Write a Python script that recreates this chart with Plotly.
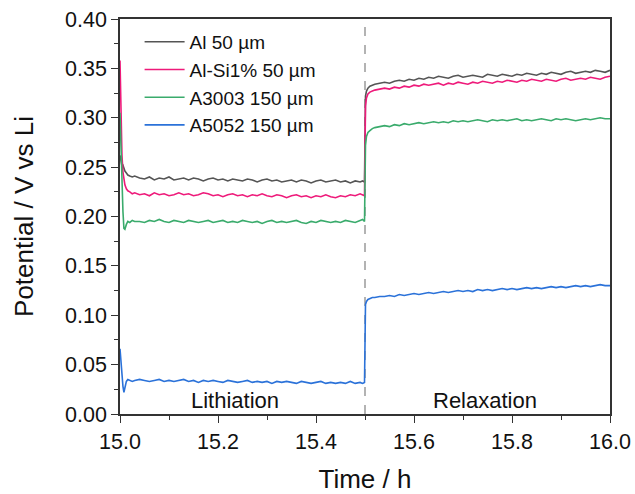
import plotly.graph_objects as go

# ---- data ----
time_lith = [15.000, 15.002, 15.004, 15.006, 15.008, 15.010, 15.013, 15.016, 15.020, 15.025, 15.030,
             15.04, 15.05, 15.06, 15.07, 15.08, 15.09, 15.10, 15.11, 15.12, 15.13,
             15.14, 15.15, 15.16, 15.17, 15.18, 15.19, 15.20, 15.21, 15.22, 15.23,
             15.24, 15.25, 15.26, 15.27, 15.28, 15.29, 15.30, 15.31, 15.32, 15.33,
             15.34, 15.35, 15.36, 15.37, 15.38, 15.39, 15.40, 15.41, 15.42, 15.43,
             15.44, 15.45, 15.46, 15.47, 15.48, 15.49, 15.495, 15.499]
time_relax = [15.501, 15.503, 15.506, 15.510, 15.515, 15.520,
              15.53, 15.54, 15.55, 15.56, 15.57, 15.58, 15.59, 15.60, 15.61, 15.62,
              15.63, 15.64, 15.65, 15.66, 15.67, 15.68, 15.69, 15.70, 15.71, 15.72,
              15.73, 15.74, 15.75, 15.76, 15.77, 15.78, 15.79, 15.80, 15.81, 15.82,
              15.83, 15.84, 15.85, 15.86, 15.87, 15.88, 15.89, 15.90, 15.91, 15.92,
              15.93, 15.94, 15.95, 15.96, 15.97, 15.98, 15.99, 16.00]

al_lith = [0.262, 0.254, 0.251, 0.252, 0.249, 0.246, 0.244, 0.242, 0.241, 0.240, 0.241,
           0.239, 0.238, 0.240, 0.237, 0.239, 0.238, 0.240, 0.237, 0.238, 0.239,
           0.237, 0.239, 0.238, 0.236, 0.238, 0.239, 0.237, 0.238, 0.236, 0.238,
           0.237, 0.236, 0.238, 0.237, 0.235, 0.237, 0.238, 0.236, 0.237, 0.235,
           0.236, 0.237, 0.235, 0.237, 0.236, 0.234, 0.236, 0.237, 0.235, 0.236,
           0.237, 0.235, 0.236, 0.234, 0.236, 0.235, 0.236, 0.235]
al_relax = [0.322, 0.327, 0.330, 0.332, 0.333, 0.334,
            0.335, 0.336, 0.335, 0.337, 0.338, 0.337, 0.339, 0.338, 0.340, 0.339,
            0.341, 0.340, 0.342, 0.341, 0.340, 0.342, 0.343, 0.341, 0.342, 0.343,
            0.342, 0.341, 0.344, 0.343, 0.342, 0.344, 0.343, 0.342, 0.344, 0.343,
            0.345, 0.344, 0.343, 0.345, 0.344, 0.346, 0.345, 0.344, 0.346, 0.347,
            0.345, 0.346, 0.347, 0.346, 0.348, 0.347, 0.346, 0.348]

alsi_lith = [0.358, 0.300, 0.262, 0.245, 0.236, 0.232, 0.228, 0.226, 0.225, 0.223, 0.224,
             0.222, 0.223, 0.221, 0.224, 0.222, 0.223, 0.221, 0.222, 0.224, 0.222,
             0.223, 0.221, 0.222, 0.224, 0.223, 0.221, 0.222, 0.220, 0.222, 0.223,
             0.221, 0.222, 0.220, 0.222, 0.221, 0.223, 0.221, 0.220, 0.222, 0.221,
             0.219, 0.221, 0.222, 0.220, 0.221, 0.219, 0.221, 0.220, 0.222, 0.220,
             0.219, 0.221, 0.220, 0.222, 0.221, 0.223, 0.222, 0.221]
alsi_relax = [0.312, 0.320, 0.324, 0.326, 0.327, 0.328,
              0.329, 0.330, 0.329, 0.331, 0.330, 0.332, 0.331, 0.333, 0.332, 0.334,
              0.333, 0.334, 0.335, 0.333, 0.335, 0.334, 0.336, 0.335, 0.334, 0.336,
              0.335, 0.337, 0.336, 0.335, 0.337, 0.336, 0.338, 0.337, 0.336, 0.338,
              0.337, 0.339, 0.338, 0.337, 0.339, 0.338, 0.337, 0.339, 0.340, 0.338,
              0.339, 0.340, 0.339, 0.341, 0.340, 0.339, 0.341, 0.342]

a3003_lith = [0.305, 0.262, 0.228, 0.205, 0.188, 0.187, 0.192, 0.195, 0.194, 0.196, 0.195,
              0.195, 0.194, 0.196, 0.195, 0.197, 0.195, 0.194, 0.196, 0.195, 0.194,
              0.196, 0.195, 0.194, 0.195, 0.196, 0.194, 0.195, 0.196, 0.194, 0.195,
              0.194, 0.196, 0.195, 0.194, 0.195, 0.193, 0.195, 0.196, 0.194, 0.195,
              0.194, 0.195, 0.196, 0.194, 0.193, 0.195, 0.194, 0.196, 0.195, 0.194,
              0.195, 0.194, 0.196, 0.195, 0.194, 0.196, 0.197, 0.195]
a3003_relax = [0.272, 0.281, 0.285, 0.287, 0.289, 0.290,
               0.291, 0.292, 0.291, 0.293, 0.292, 0.294, 0.293, 0.294, 0.295, 0.294,
               0.295, 0.296, 0.295, 0.296, 0.295, 0.297, 0.296, 0.297, 0.296, 0.297,
               0.298, 0.297, 0.296, 0.298, 0.297, 0.298, 0.297, 0.298, 0.299, 0.297,
               0.298, 0.297, 0.298, 0.299, 0.298, 0.297, 0.299, 0.298, 0.299, 0.298,
               0.297, 0.298, 0.299, 0.298, 0.299, 0.300, 0.299, 0.299]

a5052_lith = [0.066, 0.052, 0.040, 0.028, 0.022, 0.026, 0.033, 0.035, 0.034, 0.033, 0.034,
              0.035, 0.034, 0.033, 0.034, 0.035, 0.033, 0.034, 0.033, 0.034, 0.035,
              0.033, 0.034, 0.032, 0.034, 0.033, 0.034, 0.033, 0.032, 0.034, 0.033,
              0.032, 0.033, 0.034, 0.032, 0.033, 0.032, 0.033, 0.031, 0.033, 0.032,
              0.033, 0.032, 0.031, 0.033, 0.032, 0.031, 0.032, 0.033, 0.031, 0.032,
              0.031, 0.032, 0.031, 0.033, 0.031, 0.032, 0.031, 0.032]
a5052_relax = [0.111, 0.114, 0.116, 0.117, 0.118, 0.118,
               0.119, 0.119, 0.120, 0.119, 0.121, 0.120, 0.121, 0.122, 0.121, 0.122,
               0.123, 0.122, 0.123, 0.124, 0.123, 0.124, 0.125, 0.124, 0.125, 0.124,
               0.126, 0.125, 0.126, 0.125, 0.126, 0.127, 0.126, 0.127, 0.126, 0.127,
               0.128, 0.127, 0.128, 0.127, 0.128, 0.129, 0.128, 0.129, 0.128, 0.129,
               0.130, 0.129, 0.130, 0.129, 0.130, 0.131, 0.130, 0.130]

series_names = ["Al 50 µm", "Al-Si1% 50 µm", "A3003 150 µm", "A5052 150 µm"]
series_colors = ["#555555", "#ee1a7a", "#3aab6c", "#2b72d9"]
series_lith = [al_lith, alsi_lith, a3003_lith, a5052_lith]
series_relax = [al_relax, alsi_relax, a3003_relax, a5052_relax]

x_ticks = [15.0, 15.2, 15.4, 15.6, 15.8, 16.0]
y_ticks = [0.00, 0.05, 0.10, 0.15, 0.20, 0.25, 0.30, 0.35, 0.40]
phase_labels = ["Lithiation", "Relaxation"]
phase_x = [15.235, 15.745]
switch_time = 15.5

FONT = "Arial, Liberation Sans, sans-serif"

fig = go.Figure()
for name, color, yl, yr in zip(series_names, series_colors, series_lith, series_relax):
    fig.add_trace(go.Scatter(
        x=time_lith + time_relax, y=yl + yr, mode="lines", name=name,
        line=dict(color=color, width=1.6)))

fig.add_shape(type="line", x0=switch_time, x1=switch_time, y0=0, y1=1,
              xref="x", yref="y domain",
              line=dict(color="#9a9a9a", width=1.5, dash="dash"), layer="below")

for lbl, px in zip(phase_labels, phase_x):
    fig.add_annotation(x=px, y=0.014, xref="x", yref="y", text=lbl, showarrow=False,
                       font=dict(size=22, color="#111111", family=FONT))

axis_common = dict(showline=True, linecolor="#333333", linewidth=1.5, mirror=True,
                   ticks="outside", ticklen=7, tickwidth=1.3, tickcolor="#333333",
                   showgrid=False, zeroline=False, automargin=False,
                   tickfont=dict(size=21.5, color="#111111", family=FONT))

fig.update_xaxes(range=[15.0, 16.0], tickvals=x_ticks,
                 ticktext=[f"{v:.1f}" for v in x_ticks],
                 minor=dict(dtick=0.1, tick0=15.0, ticks="outside", ticklen=4,
                            tickwidth=1.3, tickcolor="#333333"),
                 title=dict(text="Time / h", font=dict(size=26, color="#111111", family=FONT),
                            standoff=22),
                 **axis_common)
fig.update_yaxes(range=[0, 0.40], tickvals=y_ticks,
                 ticktext=[f"{v:.2f}" for v in y_ticks],
                 minor=dict(dtick=0.025, tick0=0, ticks="outside", ticklen=4,
                            tickwidth=1.3, tickcolor="#333333"),
                 title=dict(text="Potential / V vs Li", font=dict(size=26, color="#111111", family=FONT),
                            standoff=24),
                 **axis_common)

fig.update_layout(
    width=635, height=494,
    margin=dict(l=120, r=25, t=19, b=80),
    paper_bgcolor="white", plot_bgcolor="white",
    font=dict(family=FONT, color="#111111"),
    legend=dict(x=0.04, y=0.99, xanchor="left", yanchor="top",
                bgcolor="rgba(0,0,0,0)", borderwidth=0,
                font=dict(size=19, color="#111111", family=FONT),
                tracegroupgap=0, itemwidth=40),
    showlegend=True,
)

fig.write_html("out.html", config={"displayModeBar": False},
               post_script="document.body.style.margin='0';document.body.style.overflow='hidden';")
